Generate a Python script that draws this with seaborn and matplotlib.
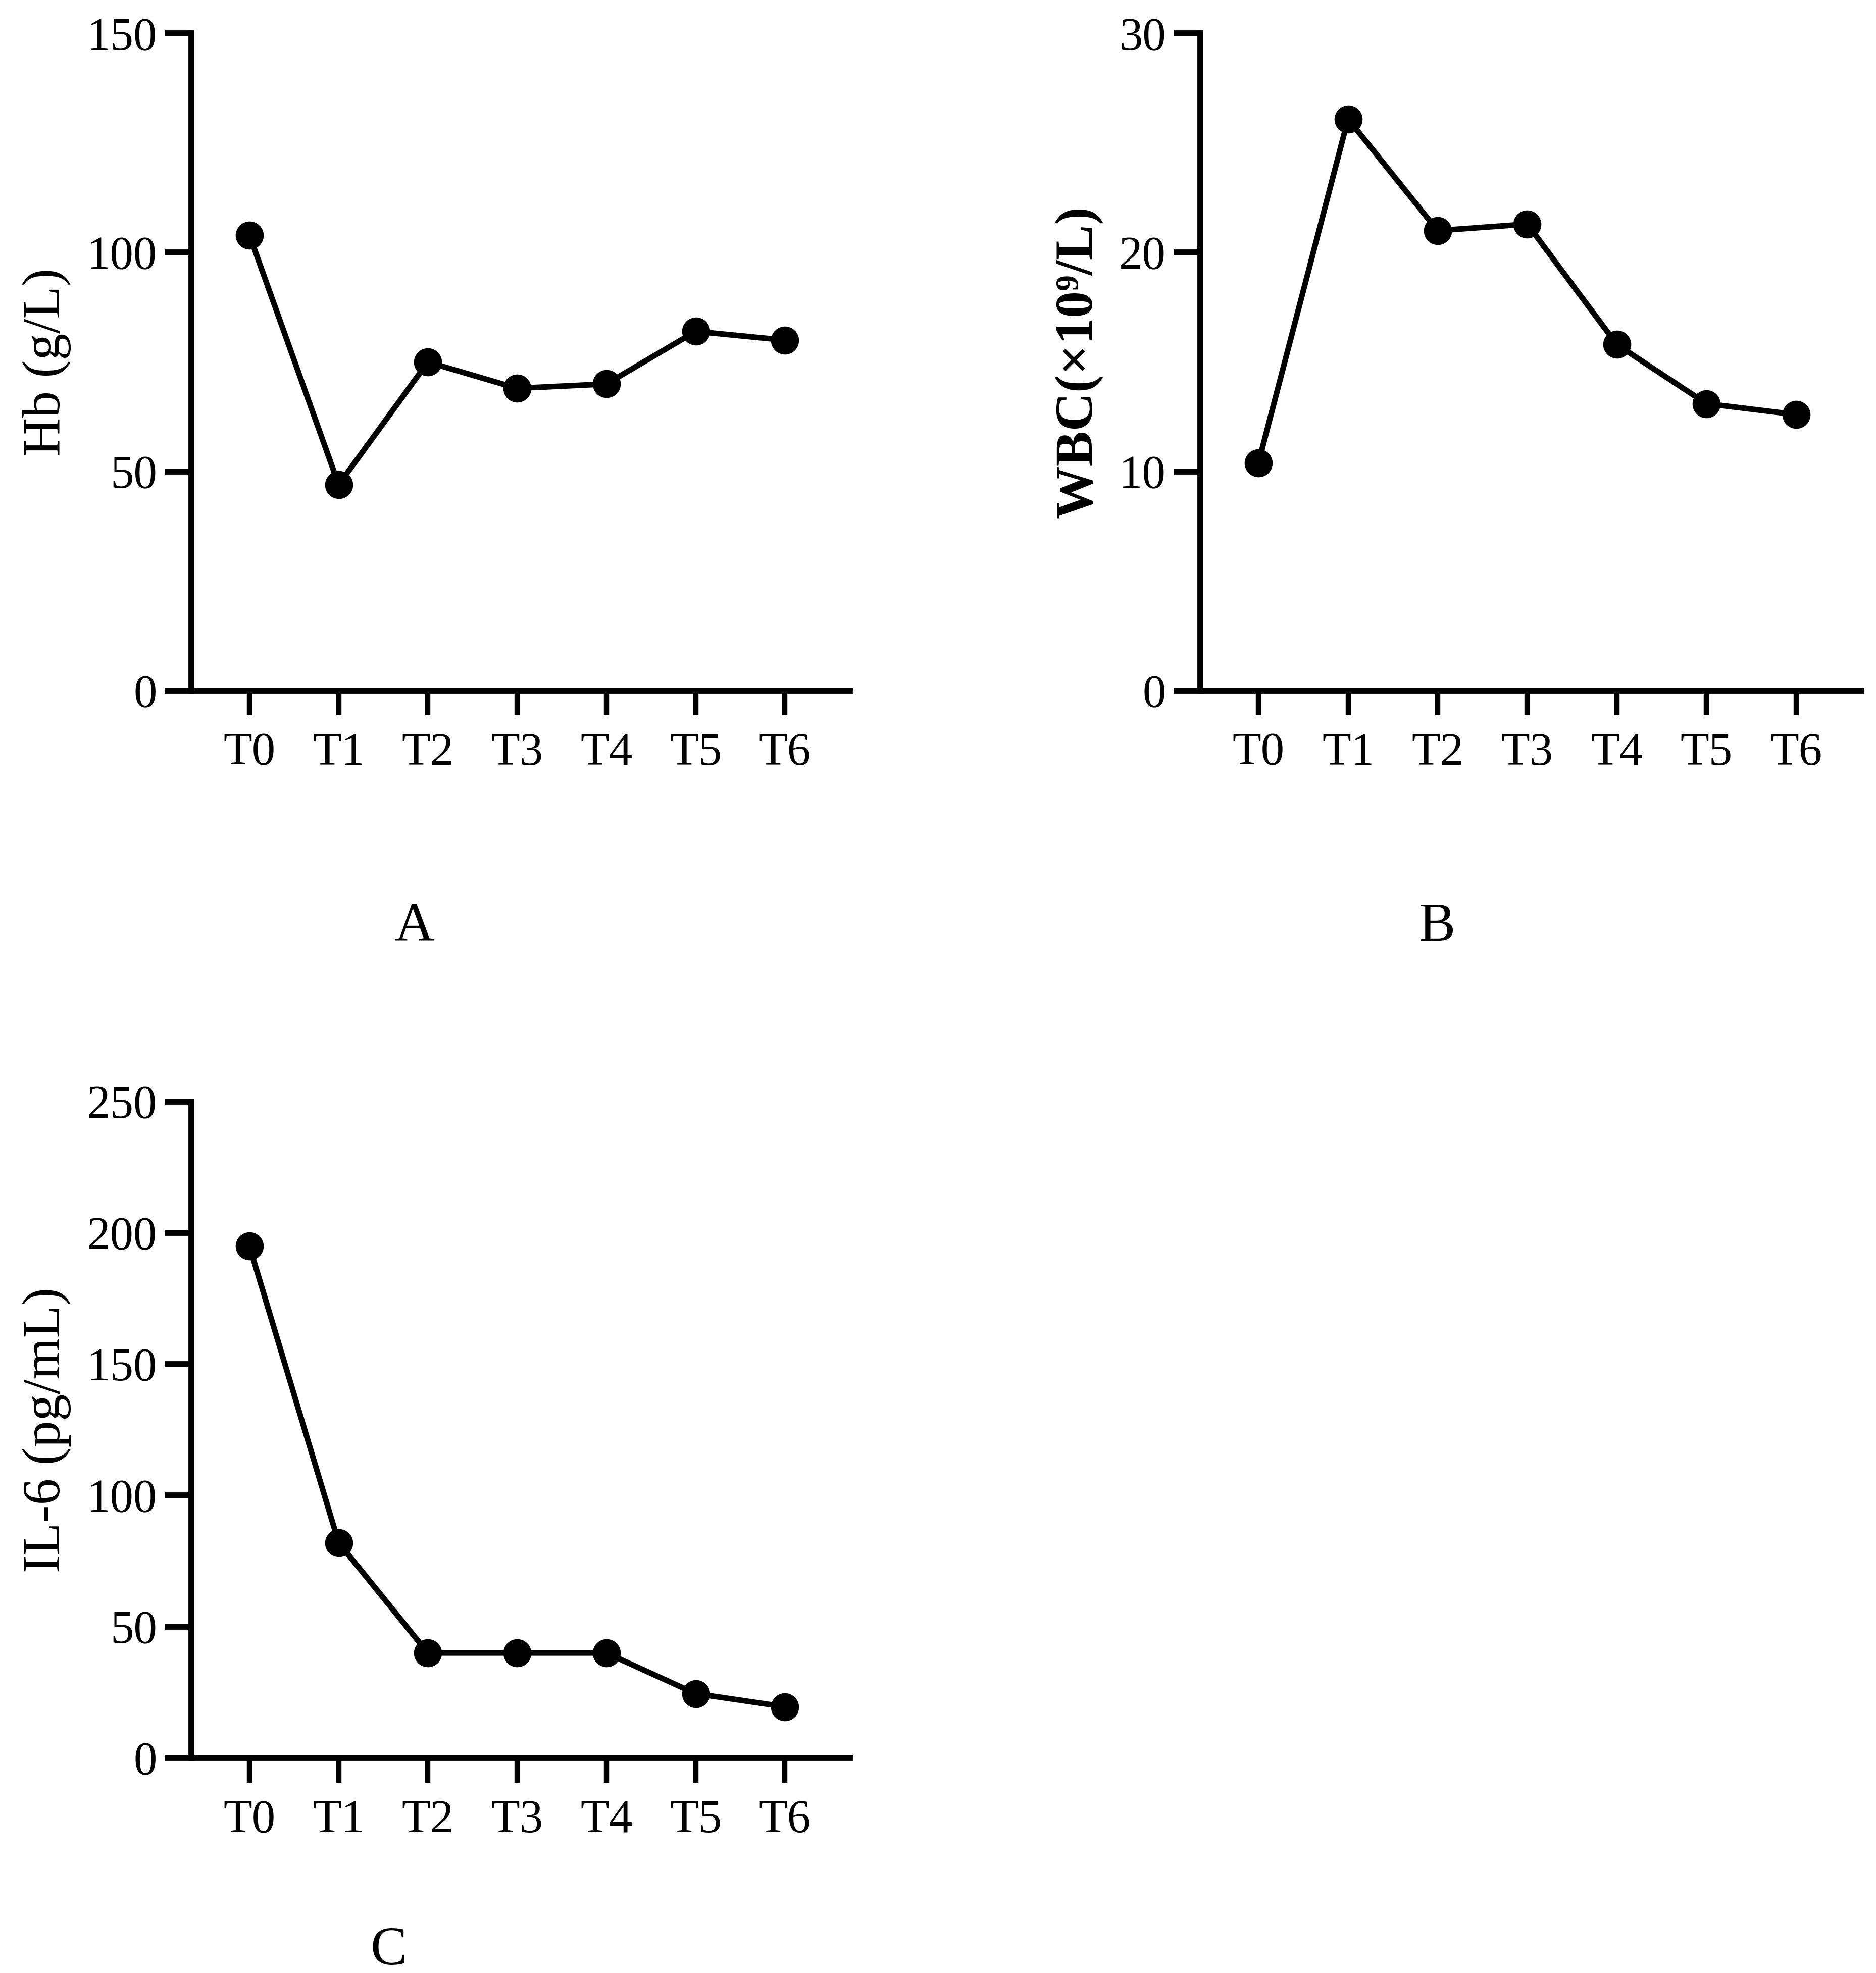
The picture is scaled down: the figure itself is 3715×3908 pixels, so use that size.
import matplotlib
matplotlib.use("Agg")
import matplotlib.pyplot as plt
import seaborn as sns

# data
times = ['T0', 'T1', 'T2', 'T3', 'T4', 'T5', 'T6']
hb = [104, 47, 75, 69, 70, 82, 80]
wbc = [10.4, 26.1, 21.0, 21.3, 15.8, 13.1, 12.6]
il6 = [195, 82, 40, 40, 40, 24.5, 19.5]

hb_ticks = [0, 50, 100, 150]
wbc_ticks = [0, 10, 20, 30]
il6_ticks = [0, 50, 100, 150, 200, 250]

sns.set_theme(style='ticks')
plt.rcParams['font.family'] = ['Liberation Serif', 'DejaVu Serif']

FS = 67        # tick labels
FS_LAB = 76    # axis titles
FS_LET = 78    # panel letters
LW = 8.5

fig = plt.figure(figsize=(37.16, 39.08), dpi=100)

panels = [
    # (rect, values, ticks, ylabel, bold, letter, letter_pos)
    ([0.102, 0.650, 0.351, 0.333], hb, hb_ticks, 'Hb (g/L)', False, 'A', (0.221, 0.530)),
    ([0.6396, 0.650, 0.3524, 0.333], wbc, wbc_ticks, 'WBC(×10⁹/L)', True, 'B', (0.766, 0.530)),
    ([0.102, 0.109, 0.351, 0.3326], il6, il6_ticks, 'IL-6 (pg/mL)', False, 'C', (0.207, 0.011)),
]

for rect, vals, yt, ylab, bold, letter, lpos in panels:
    ax = fig.add_axes(rect)
    x = list(range(len(times)))
    sns.lineplot(x=x, y=vals, ax=ax, color='black', linewidth=8,
                 marker='o', markersize=40, markeredgewidth=0,
                 markerfacecolor='black')
    for ln in ax.lines:
        ln.set_clip_on(False)
    ax.set_xlim(-0.65, 6.73)
    ax.set_ylim(yt[0], yt[-1])
    ax.set_yticks(yt)
    ax.set_xticks(x)
    ax.set_xticklabels(times)
    sns.despine(ax=ax)
    for s in ['left', 'bottom']:
        ax.spines[s].set_linewidth(LW)
        ax.spines[s].set_color('black')
    ax.tick_params(axis='y', length=38, width=LW, pad=11, labelsize=FS,
                   colors='black')
    ax.tick_params(axis='x', length=35, width=7.5, pad=24, labelsize=FS,
                   colors='black')
    ax.set_ylabel(ylab, fontsize=FS_LAB, fontweight='bold' if bold else 'normal',
                  labelpad=22, color='black')
    ax.set_xlabel('')
    fig.text(lpos[0], lpos[1], letter, fontsize=FS_LET, ha='center', va='center',
             color='black')

fig.savefig('out.png', dpi=100, facecolor='white')
